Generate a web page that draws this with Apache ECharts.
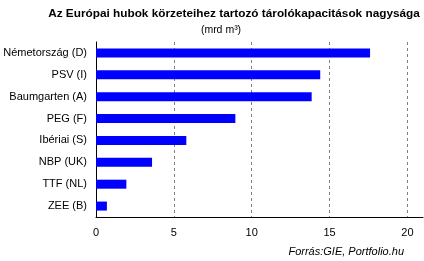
<!DOCTYPE html>
<html><head><meta charset="utf-8">
<script src="https://cdn.jsdelivr.net/npm/echarts@6/dist/echarts.min.js"></script>
<style>html,body{margin:0;padding:0;background:#fff}#c{width:424px;height:261px}</style>
</head><body><div id="c"></div>
<script>
const categories = ['Németország (D)','PSV (I)','Baumgarten (A)','PEG (F)','Ibériai (S)','NBP (UK)','TTF (NL)','ZEE (B)'];
const values = [17.6, 14.4, 13.85, 8.95, 5.8, 3.6, 1.95, 0.7];
const titleText = 'Az Európai hubok körzeteihez tartozó tárolókapacitások nagysága';
const subtitleText = '(mrd m³)';
const sourceText = 'Forrás:GIE, Portfolio.hu';

const chart = echarts.init(document.getElementById('c'));
const font = 'Arial, "Liberation Sans", sans-serif';
chart.setOption({
  animation: false,
  textStyle: {fontFamily: font},
  title: [
    {text: titleText, left: 229, top: 3, textAlign: 'center',
     textStyle: {fontSize: 11.8, fontWeight: 'bold', color: '#000', fontFamily: font}},
    {text: subtitleText, left: 216, top: 20, textAlign: 'center',
     textStyle: {fontSize: 10.5, fontWeight: 'normal', color: '#000', fontFamily: font}},
    {text: sourceText, right: 15, top: 241,
     textStyle: {fontSize: 11, fontWeight: 'normal', fontStyle: 'italic', color: '#000', fontFamily: font}}
  ],
  grid: {left: 96, right: 1, top: 42, bottom: 44, containLabel: false},
  xAxis: {
    type: 'value', min: 0, max: 21, interval: 5,
    axisLine: {show: true, lineStyle: {color: '#000', width: 1}},
    axisTick: {show: false},
    axisLabel: {color: '#000', fontSize: 11, margin: 10, showMaxLabel: false, fontFamily: font},
    splitLine: {show: true, showMinLine: false, showMaxLine: false,
      lineStyle: {color: '#808080', type: [3, 3], width: 1}}
  },
  yAxis: {
    type: 'category', data: categories, inverse: true,
    axisLine: {show: true, lineStyle: {color: '#000', width: 1}},
    axisTick: {show: false},
    axisLabel: {color: '#000', fontSize: 11, margin: 9, fontFamily: font},
    splitLine: {show: false}
  },
  series: [{
    type: 'bar', data: values, barWidth: 9,
    itemStyle: {color: '#0000ff'}
  }]
});
</script></body></html>
